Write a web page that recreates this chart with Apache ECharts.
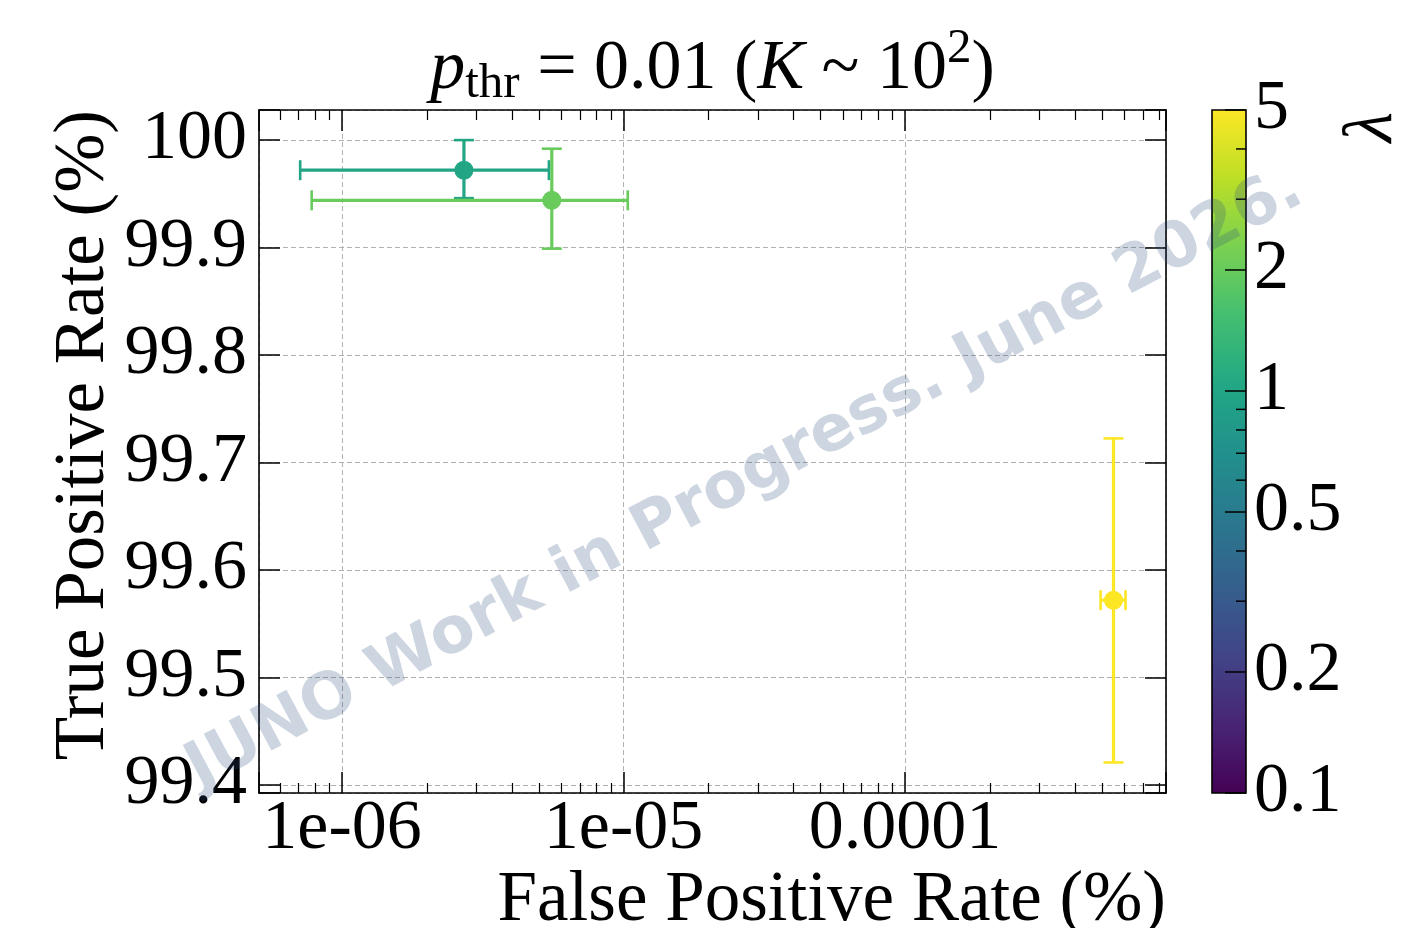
<!DOCTYPE html>
<html><head><meta charset="utf-8">
<script src="https://cdn.jsdelivr.net/npm/echarts@6/dist/echarts.min.js"></script>
<style>html,body{margin:0;padding:0;background:#fff}#c{width:1403px;height:928px}</style>
</head><body><div id="c"></div>
<script>
// ---- data ----
const lambdas  = [1, 2, 5];
const fpr      = [2.71e-6, 5.56e-6, 5.50e-4];
const fprLow   = [7.1e-7, 7.8e-7, 4.95e-4];
const fprHigh  = [5.43e-6, 1.035e-5, 6.07e-4];
const tpr      = [99.972, 99.944, 99.572];
const tprLow   = [99.946, 99.899, 99.421];
const tprHigh  = [100.0, 99.992, 99.7225];

const xMajorTicks = [1e-6, 1e-5, 1e-4];
const xTickLabels = ['1e-06', '1e-05', '0.0001'];
const xMinorTicks = [6e-7, 7e-7, 8e-7, 9e-7,
  2e-6, 3e-6, 4e-6, 5e-6, 6e-6, 7e-6, 8e-6, 9e-6,
  2e-5, 3e-5, 4e-5, 5e-5, 6e-5, 7e-5, 8e-5, 9e-5,
  2e-4, 3e-4, 4e-4, 5e-4, 6e-4, 7e-4, 8e-4];
const yTicks = [99.4, 99.5, 99.6, 99.7, 99.8, 99.9, 100];
const yTickLabels = ['99.4', '99.5', '99.6', '99.7', '99.8', '99.9', '100'];
const cbTicks = [0.1, 0.2, 0.5, 1, 2, 5];
const cbTickLabels = ['0.1', '0.2', '0.5', '1', '2', '5'];
const cbMinorTicks = [0.3, 0.4, 0.6, 0.7, 0.8, 0.9, 3, 4];

const xMin = 5.07e-7, xMax = 8.45e-4;
const yMin = 99.3926, yMax = 100.028;
const cbMin = 0.1, cbMax = 5;

const VIRIDIS = ['#440154','#482475','#414487','#355f8d','#2a788e','#21918c','#22a884','#44bf70','#7ad151','#bddf26','#fde725'];
function hex2rgb(h){return [parseInt(h.slice(1,3),16),parseInt(h.slice(3,5),16),parseInt(h.slice(5,7),16)];}
function viridis(t){
  t = Math.max(0, Math.min(1, t));
  const s = t * (VIRIDIS.length - 1), i = Math.min(Math.floor(s), VIRIDIS.length - 2), f = s - i;
  const a = hex2rgb(VIRIDIS[i]), b = hex2rgb(VIRIDIS[i+1]);
  return 'rgb(' + a.map((v,k)=>Math.round(v + (b[k]-v)*f)).join(',') + ')';
}
function lambdaColor(l){
  return viridis((Math.log10(l) - Math.log10(cbMin)) / (Math.log10(cbMax) - Math.log10(cbMin)));
}

const SERIF = 'Liberation Serif';
const FS = 70;
const chart = echarts.init(document.getElementById('c'), null, {renderer: 'canvas'});

const gridL = 259, gridT = 110, gridR = 1403 - 1166, gridB = 928 - 793;
const spine = {show: true, lineStyle: {color: '#000', width: 1.6}};
const tickStyle = {color: '#000', width: 1.5};
const dash = {show: true, lineStyle: {color: '#b0b0b0', width: 1, type: [5, 3]}};

const errData = fpr.map((x, i) => [x, tpr[i], fprLow[i], fprHigh[i], tprLow[i], tprHigh[i], lambdas[i]]);

const option = {
  animation: false,
  backgroundColor: '#fff',
  grid: [
    {left: gridL, top: gridT, right: gridR, bottom: gridB, outerBoundsMode: 'none', containLabel: false},
    {left: 1212, top: gridT, right: 1403 - 1246, bottom: gridB, outerBoundsMode: 'none', containLabel: false}
  ],
  xAxis: [
    {type: 'log', gridIndex: 0, min: xMin, max: xMax, position: 'bottom',
     axisLine: spine, axisTick: {show: true, inside: true, length: 21, lineStyle: tickStyle},
     axisLabel: {fontFamily: SERIF, fontSize: FS, color: '#000', margin: 2,
       formatter: v => { const i = xMajorTicks.findIndex(t => Math.abs(Math.log10(v) - Math.log10(t)) < 1e-6); return i >= 0 ? xTickLabels[i] : ''; }},
     splitLine: dash, minorTick: {show: false}},
    {type: 'log', gridIndex: 0, min: xMin, max: xMax, position: 'top',
     axisLine: spine, axisTick: {show: true, inside: true, length: 21, lineStyle: tickStyle},
     axisLabel: {show: false}, splitLine: {show: false}},
    {type: 'value', gridIndex: 1, min: 0, max: 1, show: false}
  ],
  yAxis: [
    {type: 'value', gridIndex: 0, min: yMin, max: yMax, position: 'left',
     axisLine: spine, axisTick: {show: true, inside: true, length: 21, lineStyle: tickStyle},
     axisLabel: {fontFamily: SERIF, fontSize: FS, color: '#000', margin: 12,
       formatter: v => { const i = yTicks.findIndex(t => Math.abs(v - t) < 1e-6); return i >= 0 ? yTickLabels[i] : ''; }},
     splitLine: dash},
    {type: 'value', gridIndex: 0, min: yMin, max: yMax, position: 'right',
     axisLine: spine, axisTick: {show: true, inside: true, length: 21, lineStyle: tickStyle},
     axisLabel: {show: false}, splitLine: {show: false}},
    {type: 'log', gridIndex: 1, min: cbMin, max: cbMax, show: false}
  ],
  series: [
    { // minor x ticks (top & bottom)
      type: 'custom', xAxisIndex: 0, yAxisIndex: 0, z: 3, silent: true, clip: false,
      data: xMinorTicks.map(v => [v, 99.7]),
      renderItem: (params, api) => {
        const p = api.coord([api.value(0), api.value(1)]);
        const cs = params.coordSys;
        const x = Math.round(p[0]) + 0.5;
        return {type: 'group', children: [
          {type: 'line', shape: {x1: x, y1: cs.y + cs.height, x2: x, y2: cs.y + cs.height - 10}, style: {stroke: '#000', lineWidth: 1.2}},
          {type: 'line', shape: {x1: x, y1: cs.y, x2: x, y2: cs.y + 10}, style: {stroke: '#000', lineWidth: 1.2}}
        ]};
      }
    },
    { // error bars + points
      type: 'custom', xAxisIndex: 0, yAxisIndex: 0, z: 4, silent: true, clip: false,
      data: errData,
      renderItem: (params, api) => {
        const x = api.value(0), y = api.value(1);
        const c = lambdaColor(api.value(6));
        const pc = api.coord([x, y]);
        const pl = api.coord([api.value(2), y]), ph = api.coord([api.value(3), y]);
        const pb = api.coord([x, api.value(4)]), pt = api.coord([x, api.value(5)]);
        const cap = 10;
        const ls = {stroke: c, lineWidth: 3.2};
        const cs = {stroke: c, lineWidth: 2.6};
        return {type: 'group', children: [
          {type: 'line', shape: {x1: pl[0], y1: pc[1], x2: ph[0], y2: pc[1]}, style: ls},
          {type: 'line', shape: {x1: pc[0], y1: pb[1], x2: pc[0], y2: pt[1]}, style: ls},
          {type: 'line', shape: {x1: pl[0], y1: pc[1] - cap, x2: pl[0], y2: pc[1] + cap}, style: cs},
          {type: 'line', shape: {x1: ph[0], y1: pc[1] - cap, x2: ph[0], y2: pc[1] + cap}, style: cs},
          {type: 'line', shape: {x1: pc[0] - cap, y1: pb[1], x2: pc[0] + cap, y2: pb[1]}, style: cs},
          {type: 'line', shape: {x1: pc[0] - cap, y1: pt[1], x2: pc[0] + cap, y2: pt[1]}, style: cs},
          {type: 'circle', shape: {cx: pc[0], cy: pc[1], r: 9.5}, style: {fill: c}}
        ]};
      }
    },
    { // colorbar gradient
      type: 'custom', xAxisIndex: 2, yAxisIndex: 2, z: 2, silent: true, clip: false,
      data: [[0, cbMin]],
      renderItem: (params, api) => {
        const p0 = api.coord([0, cbMax]), p1 = api.coord([1, cbMin]);
        const stops = VIRIDIS.map((col, i) => ({offset: i / (VIRIDIS.length - 1), color: col}));
        return {type: 'rect', shape: {x: p0[0], y: p0[1], width: p1[0] - p0[0], height: p1[1] - p0[1]},
          style: {fill: new echarts.graphic.LinearGradient(0, 1, 0, 0, stops), stroke: '#000', lineWidth: 1.6}};
      }
    },
    { // colorbar ticks
      type: 'custom', xAxisIndex: 2, yAxisIndex: 2, z: 3, silent: true, clip: false,
      data: cbTicks.map(v => [1, v, 1]).concat(cbMinorTicks.map(v => [1, v, 0])),
      renderItem: (params, api) => {
        const p = api.coord([1, api.value(1)]);
        const len = api.value(2) ? 21 : 10;
        return {type: 'line', shape: {x1: p[0], y1: p[1], x2: p[0] - len, y2: p[1]}, style: {stroke: '#000', lineWidth: 1.5}};
      }
    },
    { // colorbar labels
      type: 'custom', xAxisIndex: 2, yAxisIndex: 2, z: 3, silent: true, clip: false,
      data: cbTicks.map((v, i) => [1, v, i]),
      renderItem: (params, api) => {
        const p = api.coord([1, api.value(1)]);
        return {type: 'text', x: p[0] + 8, y: p[1],
          style: {text: cbTickLabels[api.value(2)], fontFamily: SERIF, fontSize: FS, fill: '#000', textAlign: 'left', textVerticalAlign: 'middle', verticalAlign: 'middle'}};
      }
    }
  ],
  graphic: [
    {type: 'text', x: 712.5, y: 70, z: 10,
     style: {text: '{i|p}{sub|thr}{r| = 0.01 (}{i|K}{r| ~ 10}{sup|2}{r|)}', textAlign: 'center', textVerticalAlign: 'middle', verticalAlign: 'middle',
       rich: {
         r: {fontFamily: SERIF, fontSize: FS, fill: '#000'},
         i: {fontFamily: SERIF, fontSize: FS, fontStyle: 'italic', fill: '#000'},
         sub: {fontFamily: SERIF, fontSize: 49, fill: '#000', padding: [28, 0, 0, 0]},
         sup: {fontFamily: SERIF, fontSize: 49, fill: '#000', padding: [0, 0, 42, 0]}
       }}},
    {type: 'text', x: 1166, y: 901, z: 10,
     style: {text: 'False Positive Rate (%)', fontFamily: SERIF, fontSize: 71, fill: '#000', textAlign: 'right', textVerticalAlign: 'middle', verticalAlign: 'middle'}},
    {type: 'text', x: 84, y: 110, rotation: Math.PI / 2, z: 10,
     style: {text: 'True Positive Rate (%)', fontFamily: SERIF, fontSize: 71, fill: '#000', textAlign: 'right', textVerticalAlign: 'middle', verticalAlign: 'middle'}},
    {type: 'text', x: 1373, y: 127, rotation: Math.PI / 2, z: 10,
     style: {text: 'λ', fontFamily: SERIF, fontStyle: 'italic', fontSize: FS, fill: '#000', textAlign: 'center', textVerticalAlign: 'middle', verticalAlign: 'middle'}},
    {type: 'text', x: 745, y: 480, rotation: 28 * Math.PI / 180, z: 100,
     style: {text: 'JUNO Work in Progress. June 2026.', fontFamily: 'DejaVu Sans', fontWeight: 'bold', fontSize: 64,
       fill: 'rgba(44,79,124,0.24)', textAlign: 'center', textVerticalAlign: 'middle', verticalAlign: 'middle'}}
  ]
};
chart.setOption(option);
</script>
</body></html>
